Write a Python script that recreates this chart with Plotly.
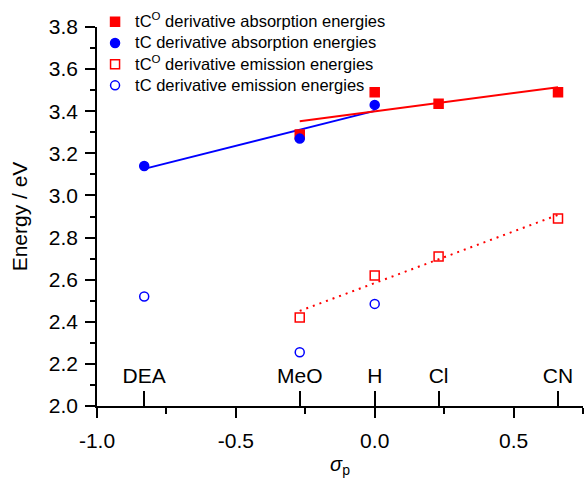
import numpy as np
import plotly.graph_objects as go

# Hammett sigma_p constants of the substituents
substituents = ["DEA", "MeO", "H", "Cl", "CN"]
sigma_p = [-0.83, -0.27, 0.0, 0.23, 0.66]

# Energies (eV); None where a derivative was not measured
tCO_absorption = [None, 3.29, 3.49, 3.435, 3.49]
tC_absorption = [3.14, 3.27, 3.43, None, None]
tCO_emission = [None, 2.42, 2.62, 2.71, 2.89]
tC_emission = [2.52, 2.255, 2.485, None, None]

# axis ticks
x_ticks = [-1.0, -0.5, 0.0, 0.5]
x_tick_labels = ["-1.0", "-0.5", "0.0", "0.5"]

RED = "#ff0000"
BLUE = "#0000ff"
FONT = "Liberation Sans, Arial, sans-serif"


def pairs(xs, ys):
    pts = [(x, y) for x, y in zip(xs, ys) if y is not None]
    return [p[0] for p in pts], [p[1] for p in pts]


def fit_line(xs, ys):
    x, y = pairs(xs, ys)
    k, b = np.polyfit(x, y, 1)
    xl = np.array([min(x), max(x)])
    return xl, k * xl + b


def legend_text(s):
    return f'<span style="font-size:16.5px">{s}</span>'


fig = go.Figure()

# linear fits (drawn underneath the markers)
for ys, color, dash in [(tC_absorption, BLUE, "solid"),
                        (tCO_absorption, RED, "solid"),
                        (tCO_emission, RED, "2px,5px")]:
    xl, yl = fit_line(sigma_p, ys)
    fig.add_trace(go.Scatter(x=xl, y=yl, mode="lines", showlegend=False,
                             hoverinfo="skip",
                             line=dict(color=color, width=2, dash=dash)))

series = [
    ("tC<sup>O</sup> derivative absorption energies", tCO_absorption, "square", RED),
    ("tC derivative absorption energies", tC_absorption, "circle", BLUE),
    ("tC<sup>O</sup> derivative emission energies", tCO_emission, "square-open", RED),
    ("tC derivative emission energies", tC_emission, "circle-open", BLUE),
]
for name, ys, sym, color in series:
    x, y = pairs(sigma_p, ys)
    fig.add_trace(go.Scatter(
        x=x, y=y, mode="markers", name=legend_text(name),
        marker=dict(symbol=sym, size=9, color=color,
                    line=dict(color=color, width=1.5)),
    ))

# substituent labels on upward ticks from the bottom axis
fig.add_trace(go.Scatter(x=sigma_p, y=[None] * len(sigma_p), xaxis="x2",
                         showlegend=False, hoverinfo="skip"))

axis_common = dict(showline=True, linecolor="black", linewidth=1.6,
                   ticks="outside", tickcolor="black", tickwidth=1.5,
                   showgrid=False, zeroline=False,
                   tickfont=dict(family=FONT, size=21, color="black"))

fig.update_layout(
    width=587, height=478,
    margin=dict(l=97, r=3.5, t=26.5, b=71.5),
    paper_bgcolor="white", plot_bgcolor="white",
    font=dict(family=FONT, color="black"),
    showlegend=True,
    legend=dict(x=-0.004, y=1.055, xanchor="left", yanchor="top",
                bgcolor="rgba(0,0,0,0)", tracegroupgap=0,
                font=dict(family=FONT, size=14, color="black"),
                itemsizing="trace"),
    xaxis=dict(range=[-1.0, 0.75], tickmode="array", tickvals=x_ticks,
               ticktext=x_tick_labels, ticklen=10, ticklabelstandoff=5,
               minor=dict(tickmode="linear", tick0=-1.0, dtick=0.25,
                          ticklen=6, ticks="outside",
                          tickcolor="black", tickwidth=1.5),
               title=dict(text="<i>σ</i><sub>p</sub>",
                          font=dict(family=FONT, size=20), standoff=8),
               **axis_common),
    xaxis2=dict(overlaying="x", anchor="free", position=0, side="top",
                range=[-1.0, 0.75], tickmode="array", tickvals=sigma_p,
                ticktext=substituents, ticks="outside", ticklen=15,
                tickcolor="black", tickwidth=1.5, showline=False,
                showgrid=False, zeroline=False,
                tickfont=dict(family=FONT, size=21, color="black")),
    yaxis=dict(range=[2.0, 3.8], dtick=0.2, tick0=2.0, ticklen=10,
               tickformat=".1f", ticklabelstandoff=3,
               minor=dict(dtick=0.1, ticklen=5, ticks="outside",
                          tickcolor="black", tickwidth=1.5),
               title=dict(text="Energy / eV",
                          font=dict(family=FONT, size=21), standoff=15),
               **axis_common),
)

fig.write_html("out.html")
